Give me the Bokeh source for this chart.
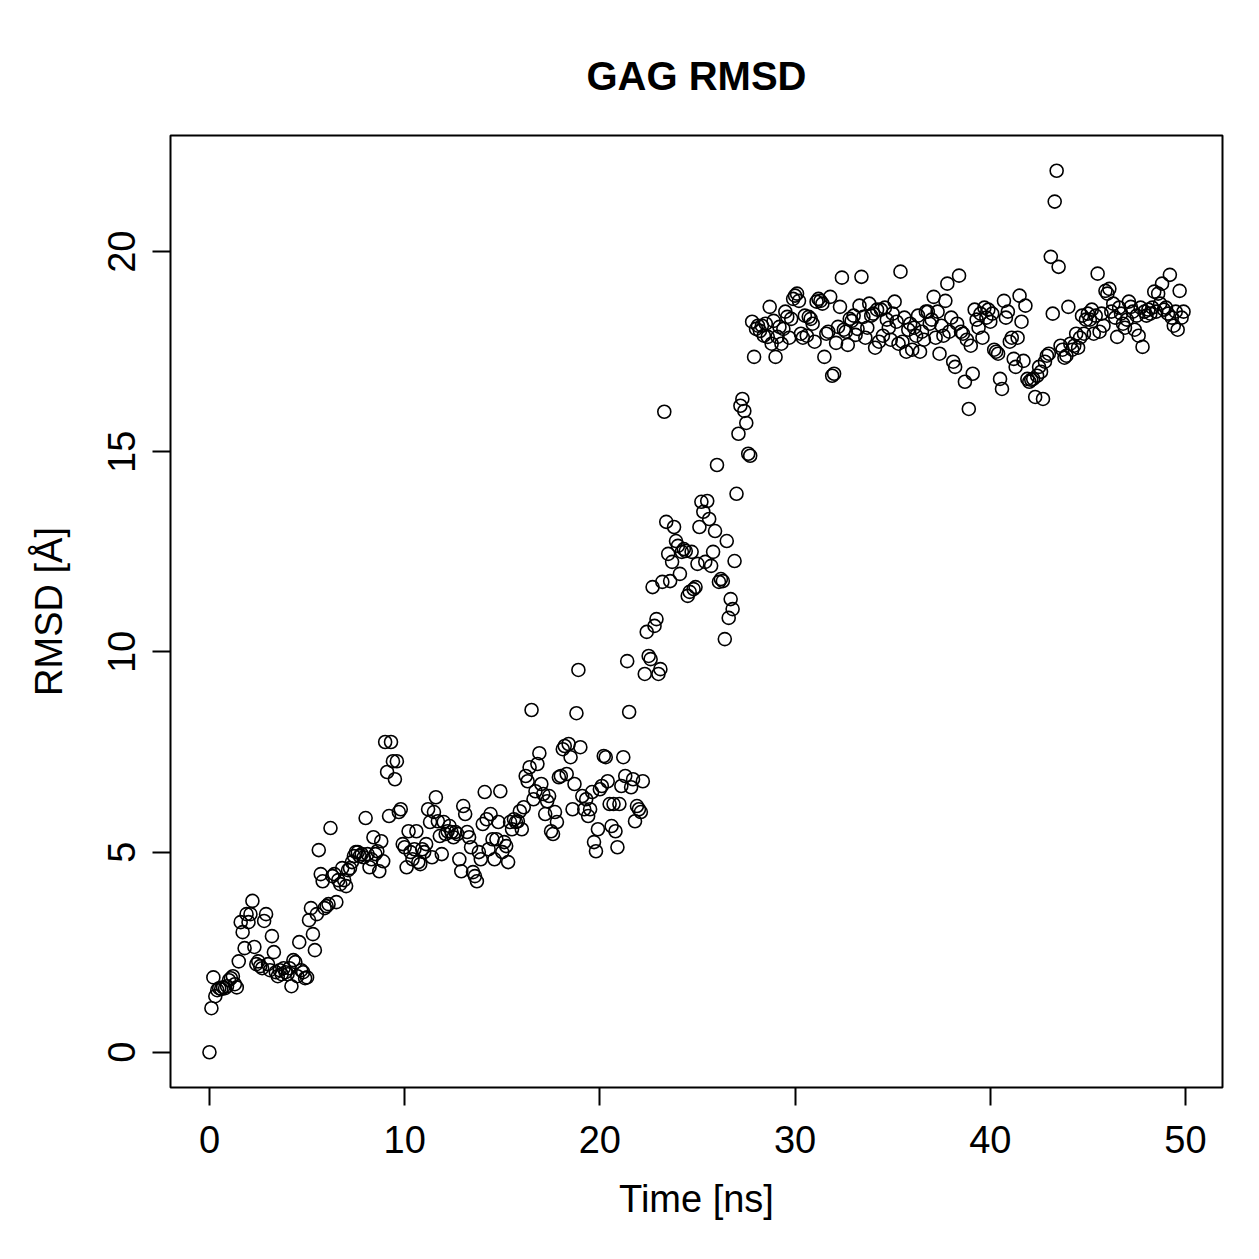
from bokeh.plotting import figure
from bokeh.models import Range1d, FixedTicker, ColumnDataSource
from bokeh.embed import file_html
from bokeh.resources import INLINE

# Trajectory sampling: one frame every 0.1 ns
frame_step_ns = 0.1

# RMSD per frame [Å], one row per nanosecond of simulation
rmsd_rows = [
    [0.0, 1.1, 1.87, 1.4, 1.55, 1.6, 1.58, 1.62, 1.6, 1.65],
    [1.8, 1.85, 1.9, 1.7, 1.62, 2.27, 3.25, 3.0, 2.6, 3.45],
    [3.25, 3.45, 3.78, 2.63, 2.2, 2.27, 2.15, 2.1, 3.28, 3.45],
    [2.2, 2.05, 2.9, 2.5, 2.0, 1.9, 2.05, 1.95, 2.1, 2.0],
    [1.95, 2.1, 1.65, 2.3, 2.25, 1.9, 2.75, 2.05, 2.0, 1.85],
    [1.87, 3.3, 3.6, 2.95, 2.55, 3.45, 5.05, 4.45, 4.27, 3.6],
    [3.65, 3.7, 5.6, 4.4, 4.45, 3.75, 4.3, 4.2, 4.6, 4.3],
    [4.15, 4.55, 4.6, 4.75, 4.9, 5.0, 5.0, 4.9, 4.95, 4.87],
    [5.85, 4.95, 4.62, 4.82, 5.37, 4.95, 5.02, 4.52, 5.27, 4.77],
    [7.75, 7.0, 5.9, 7.75, 7.27, 6.82, 7.27, 6.0, 6.07, 5.2],
    [5.12, 4.62, 5.52, 5.0, 4.82, 5.07, 5.52, 4.75, 4.7, 5.07],
    [5.0, 5.2, 6.07, 5.75, 4.87, 6.0, 6.37, 5.77, 5.4, 4.95],
    [5.75, 5.45, 5.52, 5.65, 5.5, 5.37, 5.5, 5.45, 4.82, 4.52],
    [6.15, 5.95, 5.5, 5.37, 5.12, 4.5, 4.4, 4.27, 5.0, 4.82],
    [5.7, 6.5, 5.82, 5.07, 5.95, 5.32, 4.82, 5.32, 5.75, 6.52],
    [5.0, 5.25, 5.15, 4.75, 5.75, 5.57, 5.82, 5.75, 5.77, 6.02],
    [5.57, 6.12, 6.9, 6.77, 7.12, 8.55, 6.32, 6.52, 7.2, 7.47],
    [6.7, 6.45, 5.95, 6.27, 6.4, 5.52, 5.45, 6.0, 5.75, 6.87],
    [6.9, 7.57, 7.65, 6.95, 7.7, 7.37, 6.07, 6.7, 8.47, 9.55],
    [7.62, 6.4, 6.07, 6.32, 5.9, 6.07, 6.5, 5.25, 5.02, 5.57],
    [6.57, 6.65, 7.4, 7.37, 6.77, 6.2, 5.65, 6.2, 5.52, 5.12],
    [6.2, 6.65, 7.37, 6.9, 9.77, 8.5, 6.62, 6.82, 5.77, 6.15],
    [6.07, 6.0, 6.77, 9.45, 10.5, 9.9, 9.82, 11.62, 10.65, 10.82],
    [9.45, 9.57, 11.75, 16.0, 13.25, 12.45, 11.77, 12.25, 13.12, 12.77],
    [12.65, 11.95, 12.5, 12.57, 12.52, 11.4, 11.5, 12.5, 11.57, 11.62],
    [12.2, 13.12, 13.75, 13.5, 12.25, 13.77, 13.32, 12.15, 12.5, 13.02],
    [14.67, 11.75, 11.82, 11.77, 10.32, 12.77, 10.85, 11.32, 11.07, 12.27],
    [13.95, 15.45, 16.15, 16.32, 16.02, 15.72, 14.95, 14.9, 18.25, 17.37],
    [18.07, 18.15, 18.02, 18.15, 17.9, 18.2, 17.87, 18.62, 17.7, 18.27],
    [17.37, 17.87, 18.12, 17.7, 18.07, 18.5, 18.37, 17.85, 18.32, 18.82],
    [18.9, 18.95, 18.77, 17.95, 17.85, 18.4, 17.9, 18.37, 18.32, 18.2],
    [17.75, 18.75, 18.82, 18.77, 18.7, 17.37, 17.95, 18.0, 18.87, 16.9],
    [16.95, 17.72, 18.12, 18.62, 19.35, 18.05, 18.0, 17.67, 18.32, 18.27],
    [18.4, 17.92, 18.07, 18.65, 19.37, 18.37, 17.85, 18.1, 18.7, 18.4],
    [18.45, 17.6, 18.55, 17.75, 18.55, 17.9, 18.6, 18.3, 18.1, 17.8],
    [18.45, 18.75, 18.25, 17.7, 19.5, 17.75, 18.35, 17.5, 18.05, 18.2],
    [17.55, 18.1, 17.9, 18.4, 17.5, 18.0, 17.8, 18.5, 18.5, 18.2],
    [18.3, 18.87, 17.85, 18.5, 17.45, 18.15, 17.9, 18.77, 19.2, 18.0],
    [18.35, 17.25, 17.12, 18.2, 19.4, 18.0, 17.95, 16.75, 17.8, 16.07],
    [17.65, 16.95, 18.55, 18.3, 18.1, 18.45, 17.85, 18.6, 18.35, 18.55],
    [18.25, 18.45, 17.55, 17.5, 17.45, 16.82, 16.57, 18.77, 18.35, 18.5],
    [17.75, 17.85, 17.32, 17.12, 17.85, 18.9, 18.25, 17.27, 18.65, 16.82],
    [16.75, 16.8, 16.82, 16.37, 16.9, 17.12, 17.0, 16.32, 17.25, 17.4],
    [17.45, 19.87, 18.45, 21.25, 22.02, 19.62, 17.65, 17.55, 17.35, 17.4],
    [18.62, 17.7, 17.55, 17.65, 17.95, 17.6, 17.85, 18.4, 17.95, 18.3],
    [18.45, 18.3, 18.55, 17.95, 18.4, 19.45, 18.0, 18.45, 18.15, 19.02],
    [18.95, 19.07, 18.5, 18.7, 18.35, 17.87, 18.6, 18.45, 18.2, 18.1],
    [18.3, 18.75, 18.62, 18.5, 18.05, 18.4, 17.9, 18.6, 17.62, 18.5],
    [18.4, 18.55, 18.45, 18.6, 19.0, 18.5, 18.95, 18.7, 19.2, 18.55],
    [18.6, 18.45, 19.42, 18.35, 18.15, 18.5, 18.05, 19.02, 18.35, 18.5],
]

x_ticks = [0, 10, 20, 30, 40, 50]
y_ticks = [0, 5, 10, 15, 20]

title_text = "GAG RMSD"
x_label = "Time [ns]"
y_label = "RMSD [Å]"

rmsd = [v for row in rmsd_rows for v in row]
time_ns = [round(i * frame_step_ns, 1) for i in range(len(rmsd))]

# axis limits padded by 4% on each side
def padded(lo, hi, frac=0.04):
    d = (hi - lo) * frac
    return lo - d, hi + d

x_lo, x_hi = padded(min(time_ns), max(time_ns))
y_lo, y_hi = padded(min(rmsd), max(rmsd))

FONT = "Liberation Sans"

p = figure(
    width=1259, height=1259,
    output_backend="svg", toolbar_location=None,
    x_range=Range1d(x_lo, x_hi), y_range=Range1d(y_lo, y_hi),
    min_border_left=170, min_border_right=37,
    min_border_top=135, min_border_bottom=172,
    title=title_text,
)

p.background_fill_color = "white"
p.border_fill_color = "white"
p.grid.visible = False
p.outline_line_color = "black"
p.outline_line_width = 2

p.title.align = "center"
p.title.text_font = FONT
p.title.text_font_size = "40px"
p.title.text_font_style = "bold"
p.title.text_color = "black"
p.title.standoff = 76

for ax in (p.xaxis[0], p.yaxis[0]):
    ax.axis_line_color = None
    ax.major_tick_line_color = "black"
    ax.major_tick_line_width = 2
    ax.major_tick_out = 18
    ax.major_tick_in = 0
    ax.minor_tick_line_color = None
    ax.major_label_text_font = FONT
    ax.major_label_text_font_size = "38px"
    ax.major_label_text_color = "black"
    ax.axis_label_text_font = FONT
    ax.axis_label_text_font_size = "38px"
    ax.axis_label_text_font_style = "normal"
    ax.axis_label_text_color = "black"

p.xaxis[0].ticker = FixedTicker(ticks=x_ticks)
p.yaxis[0].ticker = FixedTicker(ticks=y_ticks)
p.xaxis[0].axis_label = x_label
p.yaxis[0].axis_label = y_label
p.xaxis[0].major_label_standoff = 20
p.xaxis[0].axis_label_standoff = 22
p.yaxis[0].major_label_orientation = "vertical"
p.yaxis[0].major_label_standoff = 17
p.yaxis[0].axis_label_standoff = 36

src = ColumnDataSource(dict(t=time_ns, r=rmsd))
p.scatter("t", "r", source=src, marker="circle", size=13,
          fill_color=None, line_color="black", line_width=1.6)

open("out.html", "w").write(file_html(p, INLINE))
